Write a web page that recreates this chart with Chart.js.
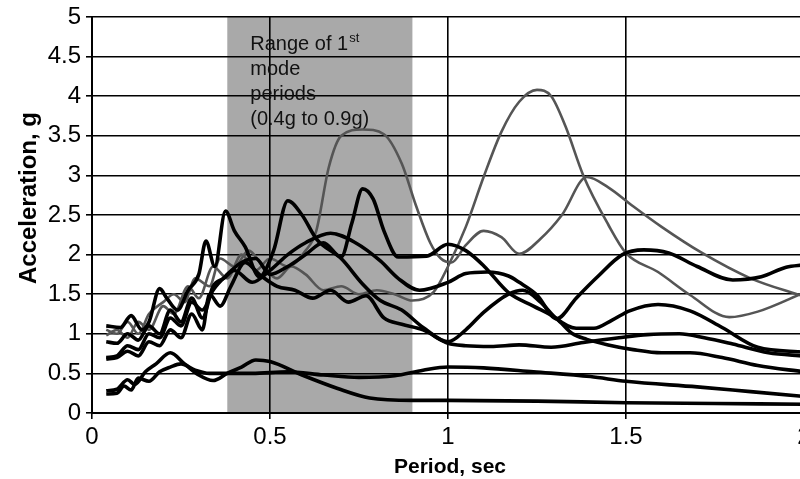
<!DOCTYPE html>
<html>
<head>
<meta charset="utf-8">
<script src="https://cdn.jsdelivr.net/npm/chart.js@4.4.1/dist/chart.umd.min.js"></script>
<style>
html,body{margin:0;padding:0;background:#fff;overflow:hidden;}
#wrap{width:800px;height:479px;overflow:hidden;position:relative;background:#fff;}
canvas{display:block;}
</style>
</head>
<body>
<div id="wrap"><canvas id="c" width="830" height="479"></canvas></div>
<script>
// ---- data (period [s], acceleration [g]) ----
const xTickValues = [0, 0.5, 1, 1.5, 2];
const yTickValues = [0, 0.5, 1, 1.5, 2, 2.5, 3, 3.5, 4, 4.5, 5];
const shadeRange = [0.38, 0.9];
const shadeLabelLines = ['Range of 1', 'mode', 'periods', '(0.4g to 0.9g)'];
const xTitle = 'Period, sec';
const yTitle = 'Acceleration, g';

const recordA = [[0.04,1.05],[0.07,1.00],[0.10,1.15],[0.13,1.00],[0.16,1.25],[0.20,1.40],[0.23,1.50],[0.26,1.40],[0.29,1.70],[0.33,1.60],[0.36,1.95],[0.40,1.85],[0.44,2.05],[0.48,1.85],[0.52,1.70],[0.56,1.85],[0.60,1.75],[0.65,1.55],[0.70,1.60],[0.75,1.50],[0.80,1.55],[0.85,1.50],[0.90,1.42],[0.96,1.53],[1.00,1.85],[1.05,2.35],[1.10,2.98],[1.15,3.55],[1.20,3.93],[1.25,4.08],[1.29,4.00],[1.33,3.62],[1.38,3.00],[1.45,2.38],[1.50,2.02],[1.59,1.78],[1.68,1.49],[1.79,1.21],[1.87,1.28],[2.00,1.52]];
const recordC = [[0.04,0.98],[0.07,1.05],[0.10,0.95],[0.13,1.15],[0.16,1.05],[0.20,1.35],[0.23,1.25],[0.27,1.60],[0.30,1.45],[0.34,1.85],[0.38,1.70],[0.42,2.00],[0.46,1.80],[0.50,1.95],[0.55,1.85],[0.60,2.05],[0.63,2.30],[0.665,3.10],[0.70,3.50],[0.76,3.58],[0.82,3.52],[0.87,3.15],[0.91,2.62],[0.95,2.15],[0.98,1.95],[1.01,1.90],[1.05,2.12],[1.10,2.30],[1.15,2.22],[1.20,2.01],[1.26,2.20],[1.32,2.50],[1.39,2.98],[1.45,2.85],[1.52,2.61],[1.60,2.35],[1.71,2.03],[1.85,1.70],[2.00,1.47]];
const recordB = [[0.04,1.10],[0.08,1.08],[0.11,1.23],[0.14,1.05],[0.16,1.15],[0.19,1.57],[0.21,1.45],[0.24,1.30],[0.27,1.55],[0.30,1.75],[0.32,2.17],[0.345,1.85],[0.375,2.55],[0.40,2.30],[0.43,2.10],[0.47,1.72],[0.51,2.05],[0.55,2.68],[0.59,2.50],[0.63,2.20],[0.70,1.95],[0.76,1.63],[0.81,1.42],[0.87,1.30],[0.93,1.08],[1.00,0.90],[1.05,1.05],[1.10,1.27],[1.17,1.50],[1.21,1.55],[1.26,1.40],[1.305,1.19],[1.36,1.07],[1.41,1.07],[1.46,1.17],[1.51,1.29],[1.59,1.37],[1.68,1.29],[1.77,1.08],[1.87,0.83],[2.00,0.77]];
const recordE = [[0.04,0.70],[0.07,0.72],[0.10,0.85],[0.13,0.80],[0.16,1.00],[0.19,0.95],[0.22,1.20],[0.25,1.10],[0.28,1.40],[0.31,1.30],[0.34,1.55],[0.38,1.75],[0.42,1.90],[0.46,1.95],[0.50,1.75],[0.55,1.85],[0.60,2.00],[0.65,2.15],[0.70,1.97],[0.73,2.40],[0.76,2.83],[0.79,2.70],[0.82,2.30],[0.86,1.97],[0.94,1.98],[1.00,2.13],[1.05,2.05],[1.10,1.86],[1.17,1.52],[1.24,1.35],[1.305,1.19],[1.35,1.00],[1.39,0.93],[1.45,0.86],[1.52,0.80],[1.60,0.76],[1.68,0.76],[1.77,0.70],[1.87,0.60],[2.00,0.52]];
const recordF = [[0.04,0.90],[0.07,0.88],[0.10,1.00],[0.13,0.92],[0.16,1.10],[0.19,1.00],[0.22,1.30],[0.25,1.15],[0.28,1.45],[0.31,1.20],[0.34,1.60],[0.37,1.70],[0.40,1.80],[0.45,1.65],[0.50,1.80],[0.55,2.00],[0.60,2.15],[0.67,2.27],[0.74,2.15],[0.81,1.92],[0.86,1.70],[0.92,1.55],[1.00,1.65],[1.05,1.76],[1.11,1.78],[1.17,1.73],[1.20,1.65],[1.25,1.49],[1.305,1.19],[1.36,1.45],[1.42,1.72],[1.49,2.00],[1.55,2.06],[1.62,2.02],[1.70,1.85],[1.80,1.68],[1.88,1.72],[1.95,1.84],[2.00,1.87]];
const recordL = [[0.04,0.68],[0.07,0.70],[0.10,0.78],[0.13,0.72],[0.16,0.90],[0.19,0.85],[0.22,1.05],[0.25,0.95],[0.28,1.25],[0.31,1.05],[0.33,1.50],[0.36,1.35],[0.39,1.60],[0.43,1.90],[0.47,1.75],[0.52,1.60],[0.57,1.55],[0.62,1.45],[0.67,1.55],[0.72,1.40],[0.77,1.48],[0.82,1.20],[0.87,1.12],[0.93,1.05],[1.00,0.88],[1.05,0.85],[1.12,0.84],[1.20,0.86],[1.29,0.83],[1.38,0.89],[1.48,0.95],[1.56,0.99],[1.65,1.00],[1.72,0.95],[1.80,0.87],[1.90,0.76],[2.00,0.72]];
const recordG = [[0.04,0.28],[0.07,0.30],[0.10,0.42],[0.12,0.36],[0.15,0.52],[0.18,0.62],[0.22,0.76],[0.26,0.62],[0.30,0.48],[0.34,0.41],[0.38,0.50],[0.42,0.58],[0.46,0.67],[0.50,0.65],[0.59,0.48],[0.69,0.31],[0.78,0.19],[0.90,0.16],[1.00,0.16],[1.25,0.15],[1.50,0.13],[1.75,0.12],[2.00,0.11]];
const recordH = [[0.04,0.24],[0.07,0.25],[0.09,0.34],[0.11,0.29],[0.13,0.44],[0.16,0.40],[0.19,0.52],[0.22,0.58],[0.25,0.62],[0.29,0.54],[0.33,0.50],[0.38,0.50],[0.45,0.50],[0.55,0.52],[0.65,0.48],[0.75,0.45],[0.85,0.47],[0.93,0.54],[1.00,0.58],[1.10,0.57],[1.24,0.52],[1.40,0.46],[1.50,0.40],[1.70,0.33],[1.85,0.27],[2.00,0.21]];

const thinRecords = [recordA, recordC];
const thickRecords = [recordB, recordE, recordF, recordL, recordG, recordH];

// ---- build chart ----
const FONT = "'Liberation Sans', Arial, Helvetica, sans-serif";
Chart.defaults.font.family = FONT;
Chart.defaults.color = '#000';

function toPoints(rec){ return rec.map(p => ({x:p[0], y:p[1]})); }
function tickText(v){ return String(Math.round(v * 10) / 10); }

const datasets = [];
thickRecords.forEach((rec,i) => datasets.push({
  label: 'thick' + i, data: toPoints(rec), borderColor: '#000', borderWidth: 3.6,
  pointRadius: 0, fill: false, cubicInterpolationMode: 'monotone'
}));
thinRecords.forEach((rec,i) => datasets.push({
  label: 'thin' + i, data: toPoints(rec), borderColor: '#555', borderWidth: 2.6,
  pointRadius: 0, fill: false, cubicInterpolationMode: 'monotone'
}));

const decorPlugin = {
  id: 'decor',
  beforeDraw(chart){
    const {ctx, chartArea:a, scales:{x}} = chart;
    ctx.save();
    ctx.fillStyle = '#fff';
    ctx.fillRect(0, 0, chart.width, chart.height);
    const x0 = x.getPixelForValue(shadeRange[0]);
    const x1 = x.getPixelForValue(shadeRange[1]);
    ctx.fillStyle = '#a9a9a9';
    ctx.fillRect(x0, a.top, x1 - x0, a.bottom - a.top);
    ctx.restore();
  },
  beforeDatasetsDraw(chart){
    const {ctx, chartArea:a, scales:{x}} = chart;
    const x0 = x.getPixelForValue(shadeRange[0]) + 23;
    ctx.save();
    ctx.fillStyle = '#111';
    ctx.textAlign = 'left';
    ctx.textBaseline = 'alphabetic';
    ctx.font = '20px ' + FONT;
    shadeLabelLines.forEach((t, i) => {
      ctx.fillText(t, x0, a.top + 33 + i * 25);
    });
    const w = ctx.measureText(shadeLabelLines[0]).width;
    ctx.font = '13px ' + FONT;
    ctx.fillText('st', x0 + w + 1, a.top + 25);
    ctx.restore();
  },
  afterDraw(chart){
    const {ctx, chartArea:a} = chart;
    ctx.save();
    ctx.fillStyle = '#000';
    ctx.textAlign = 'center';
    ctx.textBaseline = 'alphabetic';
    ctx.font = 'bold 21px ' + FONT;
    ctx.fillText(xTitle, (a.left + a.right) / 2 + 2, a.bottom + 60);
    ctx.translate(a.left - 63, a.top + 181);
    ctx.rotate(-Math.PI / 2);
    ctx.textBaseline = 'middle';
    ctx.font = 'bold 24px ' + FONT;
    ctx.fillText(yTitle, 0, 0);
    ctx.restore();
  }
};

new Chart(document.getElementById('c'), {
  type: 'line',
  data: { datasets },
  plugins: [decorPlugin],
  options: {
    responsive: false,
    animation: false,
    devicePixelRatio: 1,
    layout: { padding: { top: 17, right: 26, left: 0, bottom: 0 } },
    plugins: { legend: { display: false }, tooltip: { enabled: false } },
    scales: {
      x: {
        type: 'linear', min: 0, max: 2,
        afterBuildTicks(s){ s.ticks = xTickValues.map(v => ({value: v})); },
        afterFit(s){ s.height = 66; s.paddingLeft = 0; s.paddingRight = 0; },
        ticks: { font: { size: 24 }, color: '#000', padding: 4, maxRotation: 0, autoSkip: false, callback: tickText },
        grid: { color: '#000', lineWidth: 1.6, tickLength: 6, drawTicks: true },
        border: { display: true, color: '#000', width: 2 }
      },
      y: {
        type: 'linear', min: 0, max: 5,
        afterBuildTicks(s){ s.ticks = yTickValues.map(v => ({value: v})); },
        afterFit(s){ s.width = 92; s.paddingTop = 0; s.paddingBottom = 0; },
        ticks: { font: { size: 24 }, color: '#000', padding: 5, autoSkip: false, callback: tickText },
        grid: { color: '#000', lineWidth: 1.6, tickLength: 6, drawTicks: true },
        border: { display: true, color: '#000', width: 2 }
      }
    }
  }
});
</script>
</body>
</html>
